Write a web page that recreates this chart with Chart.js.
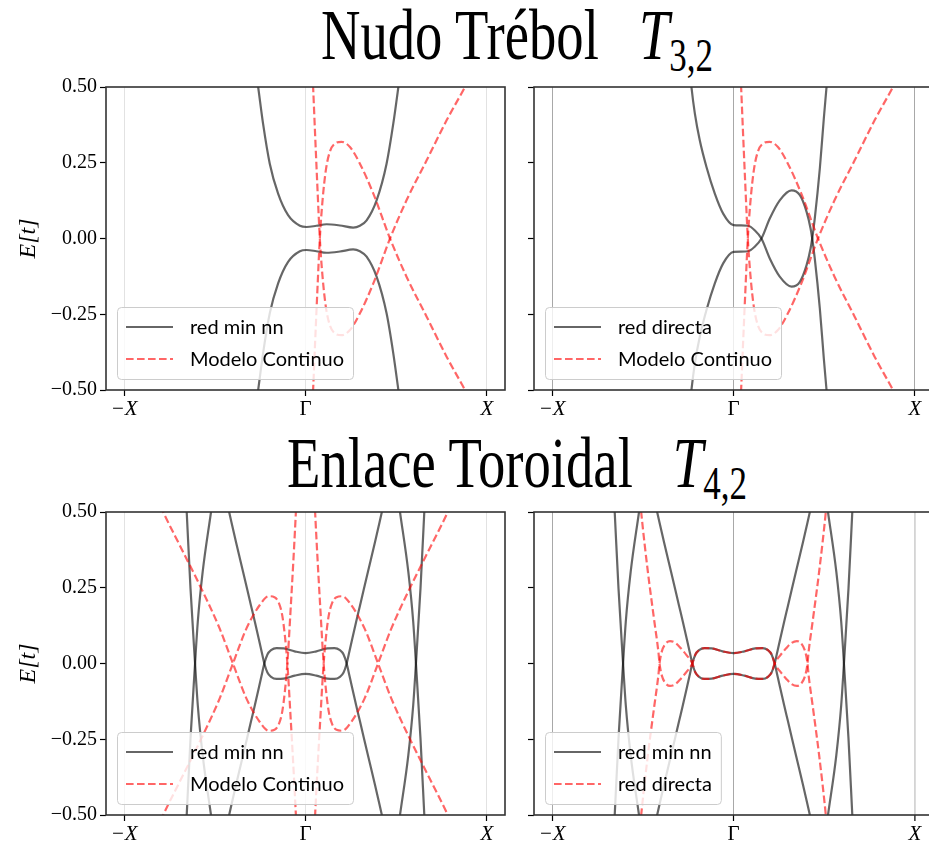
<!DOCTYPE html>
<html>
<head>
<meta charset="utf-8">
<script src="https://cdn.jsdelivr.net/npm/chart.js@4/dist/chart.umd.min.js"></script>
<style>
  html, body { margin: 0; padding: 0; background: #fff; overflow: hidden; }
  #fig { position: relative; width: 929px; height: 841px; overflow: hidden; }
  .panel { position: absolute; }
  .titulo {
    position: absolute; left: 517px;
    transform: translateX(-50%) scaleX(0.77);
    white-space: nowrap;
    font-family: "Liberation Serif", serif; font-size: 71px; line-height: 71px; color: #000;
  }
  .titulo i { margin-left: 52px; }
  .titulo sub { font-size: 0.64em; vertical-align: -0.27em; line-height: 0; }
</style>
</head>
<body>
<div id="fig">
  <div class="titulo" style="top:0px">Nudo Trébol<i>T</i><sub>3,2</sub></div>
  <div class="titulo" style="top:428px">Enlace Toroidal<i>T</i><sub>4,2</sub></div>
  <canvas class="panel" id="p1" width="515" height="353" style="left:0;top:67px"></canvas>
  <canvas class="panel" id="p2" width="423" height="353" style="left:520px;top:67px"></canvas>
  <canvas class="panel" id="p3" width="515" height="353" style="left:0;top:492px"></canvas>
  <canvas class="panel" id="p4" width="423" height="353" style="left:520px;top:492px"></canvas>
</div>
<script>
// ejes comunes
const X_TICKS = [-1, 0, 1];
const X_TICK_LABELS = ["\u2212X", "\u0393", "X"];
const Y_TICKS = [-0.5, -0.25, 0, 0.25, 0.5];
const Y_TICK_LABELS = ["\u22120.50", "\u22120.25", "0.00", "0.25", "0.50"];

// T(3,2) -- red min nn
const K_MINNN_T32 = [-0.275, -0.261, -0.234, -0.197, -0.151, -0.096, -0.031, 0.006, 0.06, 0.116, 0.19, 0.263, 0.300, 0.337, 0.392, 0.447, 0.484, 0.512, 0.525];
const E_MINNN_T32_SUP = [0.56, 0.50, 0.379, 0.247, 0.148, 0.077, 0.042, 0.038, 0.042, 0.047, 0.043, 0.036, 0.042, 0.060, 0.126, 0.247, 0.379, 0.50, 0.56];
const E_MINNN_T32_INF = [-0.56, -0.50, -0.379, -0.247, -0.148, -0.077, -0.042, -0.038, -0.042, -0.047, -0.043, -0.036, -0.042, -0.060, -0.126, -0.247, -0.379, -0.50, -0.56];

// T(3,2) -- red directa
const K_DIR_T32 = [-0.245, -0.232, -0.213, -0.186, -0.149, -0.103, -0.057, 0, 0.04, 0.081, 0.117, 0.154, 0.20, 0.255, 0.32, 0.366, 0.403, 0.425, 0.434, 0.448, 0.476, 0.498, 0.513, 0.52];
const E_DIR_T32_A = [0.58, 0.5, 0.412, 0.324, 0.236, 0.148, 0.082, 0.044, 0.043, 0.042, 0.027, 0, -0.066, -0.126, -0.159, -0.143, -0.088, -0.033, 0, 0.066, 0.231, 0.396, 0.5, 0.55];
const E_DIR_T32_B = [-0.58, -0.5, -0.412, -0.324, -0.236, -0.148, -0.082, -0.044, -0.043, -0.042, -0.027, 0, 0.066, 0.126, 0.159, 0.143, 0.088, 0.033, 0, -0.066, -0.231, -0.396, -0.5, -0.55];

// T(3,2) -- modelo continuo
const K_CONT_T32 = [0.036, 0.042, 0.052, 0.064, 0.079, 0.094, 0.112, 0.134, 0.162, 0.199, 0.245, 0.300, 0.374, 0.466, 0.557, 0.668, 0.778, 0.879, 0.90];
const E_CONT_T32_SUP = [-0.58, -0.5, -0.357, -0.192, 0, 0.126, 0.225, 0.286, 0.313, 0.319, 0.302, 0.247, 0.148, 0, -0.126, -0.258, -0.390, -0.5, -0.525];
const E_CONT_T32_INF = [0.58, 0.5, 0.357, 0.192, 0, -0.126, -0.225, -0.286, -0.313, -0.319, -0.302, -0.247, -0.148, 0, 0.126, 0.258, 0.390, 0.5, 0.525];

// T(4,2) -- red min nn: bandas centrales
const K_MINNN_T42 = [-0.44, -0.421, -0.383, -0.344, -0.30, -0.279, -0.243, -0.227, -0.21, -0.19, -0.16, -0.12, -0.06, 0, 0.06, 0.12, 0.16, 0.19, 0.21, 0.227, 0.243, 0.279, 0.30, 0.344, 0.383, 0.421, 0.44];
const E_MINNN_T42_A = [0.55, 0.5, 0.40, 0.302, 0.19, 0.137, 0.042, 0, -0.03, -0.044, -0.051, -0.05, -0.04, -0.034, -0.04, -0.05, -0.051, -0.044, -0.03, 0, 0.042, 0.137, 0.19, 0.302, 0.40, 0.5, 0.55];
const E_MINNN_T42_B = [-0.55, -0.5, -0.40, -0.302, -0.19, -0.137, -0.042, 0, 0.03, 0.044, 0.051, 0.05, 0.04, 0.034, 0.04, 0.05, 0.051, 0.044, 0.03, 0, -0.042, -0.137, -0.19, -0.302, -0.40, -0.5, -0.55];
// bandas exteriores (cruces en los bordes)
const K_MINNN_T42_IZQ = [-0.66, -0.655, -0.634, -0.609, -0.594, -0.567, -0.521, -0.515];
const E_MINNN_T42_IZQ_A = [-0.56, -0.5, -0.247, 0, 0.137, 0.302, 0.5, 0.526];
const E_MINNN_T42_IZQ_B = [0.56, 0.5, 0.247, 0, -0.137, -0.302, -0.5, -0.526];
const K_MINNN_T42_DER = [0.515, 0.521, 0.567, 0.594, 0.609, 0.634, 0.655, 0.66];
const E_MINNN_T42_DER_A = [0.526, 0.5, 0.302, 0.137, 0, -0.247, -0.5, -0.56];
const E_MINNN_T42_DER_B = [-0.526, -0.5, -0.302, -0.137, 0, 0.247, 0.5, 0.56];

// T(4,2) -- modelo continuo
const K_CONT_T42_IZQ = [-0.80, -0.785, -0.684, -0.574, -0.473, -0.40, -0.326, -0.252, -0.203, -0.171, -0.147, -0.128, -0.113, -0.10, -0.08, -0.065, -0.053, -0.047];
const E_CONT_T42_IZQ_SUP = [-0.52, -0.5, -0.379, -0.247, -0.115, 0, 0.115, 0.193, 0.222, 0.219, 0.20, 0.158, 0.088, 0, -0.20, -0.36, -0.5, -0.58];
const E_CONT_T42_IZQ_INF = [0.52, 0.5, 0.379, 0.247, 0.115, 0, -0.115, -0.193, -0.222, -0.219, -0.20, -0.158, -0.088, 0, 0.20, 0.36, 0.5, 0.58];
const K_CONT_T42_DER = [0.047, 0.053, 0.065, 0.08, 0.10, 0.113, 0.128, 0.147, 0.171, 0.203, 0.252, 0.326, 0.40, 0.473, 0.574, 0.684, 0.785, 0.80];
const E_CONT_T42_DER_SUP = [-0.58, -0.5, -0.36, -0.20, 0, 0.088, 0.158, 0.20, 0.219, 0.222, 0.193, 0.115, 0, -0.115, -0.247, -0.379, -0.5, -0.52];
const E_CONT_T42_DER_INF = [0.58, 0.5, 0.36, 0.20, 0, -0.088, -0.158, -0.20, -0.219, -0.222, -0.193, -0.115, 0, 0.115, 0.247, 0.379, 0.5, 0.52];

// T(4,2) -- red directa
const K_DIR_T42 = [-0.515, -0.509, -0.472, -0.436, -0.414, -0.408, -0.395, -0.375, -0.35, -0.32, -0.29, -0.258, -0.227, -0.21, -0.19, -0.16, -0.12, -0.06, 0, 0.06, 0.12, 0.16, 0.19, 0.21, 0.227, 0.258, 0.29, 0.32, 0.35, 0.375, 0.395, 0.408, 0.414, 0.436, 0.472, 0.509, 0.515];
const E_DIR_T42_A = [0.54, 0.5, 0.302, 0.137, 0.038, 0, -0.04, -0.065, -0.074, -0.068, -0.05, -0.027, 0, 0.03, 0.044, 0.051, 0.05, 0.04, 0.034, 0.04, 0.05, 0.051, 0.044, 0.03, 0, -0.027, -0.05, -0.068, -0.074, -0.065, -0.04, 0, 0.038, 0.137, 0.302, 0.5, 0.54];
const E_DIR_T42_B = [-0.54, -0.5, -0.302, -0.137, -0.038, 0, 0.04, 0.065, 0.074, 0.068, 0.05, 0.027, 0, -0.03, -0.044, -0.051, -0.05, -0.04, -0.034, -0.04, -0.05, -0.051, -0.044, -0.03, 0, 0.027, 0.05, 0.068, 0.074, 0.065, 0.04, 0, -0.038, -0.137, -0.302, -0.5, -0.54];

const NEGRO = "rgba(0, 0, 0, 0.6)";
const ROJO = "rgba(255, 0, 0, 0.6)";
const DASH = [7.6, 3.4];

function curva(ks, es, color, discontinua) {
    return {
        data: ks.map((k, i) => ({ x: k, y: es[i] })),
        borderColor: color,
        borderWidth: 2.2,
        borderDash: discontinua ? DASH : [],
        pointRadius: 0,
        fill: false,
        cubicInterpolationMode: "monotone",
        order: discontinua ? 0 : 1
    };
}

// leyenda dentro del area, abajo a la izquierda
const leyendaPlugin = {
    id: "leyenda",
    afterDatasetsDraw(chart, args, opts) {
        const { ctx, chartArea } = chart;
        const items = opts.items || [];
        ctx.save();
        ctx.font = "20px Lato";
        const textW = Math.max(...items.map(it => ctx.measureText(it.label).width));
        const h = 72;
        const x0 = chartArea.left + 11;
        const y0 = chartArea.bottom - 11 - h;
        const w = 73 + textW + 9;
        ctx.beginPath();
        ctx.roundRect(x0 + 0.5, y0 + 0.5, w, h, 4);
        ctx.fillStyle = "rgba(255,255,255,0.8)";
        ctx.fill();
        ctx.strokeStyle = "#cccccc";
        ctx.lineWidth = 1;
        ctx.stroke();
        items.forEach((it, i) => {
            const y = y0 + 20 + i * 32;
            ctx.beginPath();
            ctx.setLineDash(it.dash);
            ctx.strokeStyle = it.color;
            ctx.lineWidth = 2.2;
            ctx.moveTo(x0 + 9, y);
            ctx.lineTo(x0 + 56, y);
            ctx.stroke();
            ctx.setLineDash([]);
            ctx.fillStyle = "#000";
            ctx.textBaseline = "middle";
            ctx.fillText(it.label, x0 + 73, y + 1);
        });
        ctx.restore();
    }
};

// marco completo del eje
const marcoPlugin = {
    id: "marco",
    afterDraw(chart) {
        const { ctx, chartArea: a } = chart;
        ctx.save();
        ctx.strokeStyle = "#333";
        ctx.lineWidth = 1.6;
        ctx.strokeRect(a.left, a.top, a.right - a.left, a.bottom - a.top);
        ctx.restore();
    }
};

function panel(id, curvas, leyenda, conEtiquetas, coloresV, anchosV) {
    new Chart(document.getElementById(id), {
        type: "line",
        data: { datasets: curvas },
        options: {
            responsive: false,
            animation: false,
            layout: { padding: { top: 20, right: 10, left: 0, bottom: 0 } },
            plugins: {
                legend: { display: false },
                tooltip: { enabled: false },
                leyenda: { items: leyenda }
            },
            scales: {
                x: {
                    type: "linear",
                    min: -1.1,
                    max: 1.1,
                    afterBuildTicks: s => { s.ticks = X_TICKS.map(v => ({ value: v })); },
                    afterFit: s => { s.height = 30; },
                    ticks: {
                        callback: (v, i) => X_TICK_LABELS[i],
                        font: c => ({ family: "Liberation Serif", size: 21, style: c.index === 1 ? "normal" : "italic" }),
                        color: "#000",
                        padding: 1,
                        maxRotation: 0,
                        autoSkip: false
                    },
                    grid: {
                        color: c => coloresV[c.index],
                        lineWidth: c => anchosV[c.index],
                        drawTicks: true,
                        tickLength: 6,
                        tickColor: "#000",
                        tickWidth: 1.2
                    },
                    border: { display: false }
                },
                y: {
                    type: "linear",
                    min: -0.5,
                    max: 0.5,
                    afterBuildTicks: s => { s.ticks = Y_TICKS.map(v => ({ value: v })); },
                    afterFit: s => { s.width = conEtiquetas ? 106 : 14; },
                    ticks: {
                        display: conEtiquetas,
                        callback: (v, i) => Y_TICK_LABELS[i],
                        font: { family: "Liberation Serif", size: 20 },
                        color: "#000",
                        padding: 3
                    },
                    grid: {
                        drawOnChartArea: false,
                        drawTicks: true,
                        tickLength: 6,
                        tickColor: "#000",
                        tickWidth: 1.2
                    },
                    border: { display: false },
                    title: {
                        display: conEtiquetas,
                        text: "E[t]",
                        font: { family: "Liberation Serif", size: 24, style: "italic" },
                        color: "#000",
                        padding: { top: 14, bottom: 0 }
                    }
                }
            }
        },
        plugins: [leyendaPlugin, marcoPlugin]
    });
}

const GRIS_CLARO = ["#e2e2e2", "#e2e2e2", "#e2e2e2"];
const GRIS_MEDIO = ["#a8a8a8", "#a8a8a8", "#a8a8a8"];
const GRIS_MIXTO = ["#a8a8a8", "#a8a8a8", "#d4d4d4"];

const legMinnn = { label: "red min nn", color: NEGRO, dash: [] };
const legDirNegra = { label: "red directa", color: NEGRO, dash: [] };
const legCont = { label: "Modelo Continuo", color: ROJO, dash: DASH };
const legDirRoja = { label: "red directa", color: ROJO, dash: DASH };

panel("p1", [
    curva(K_MINNN_T32, E_MINNN_T32_SUP, NEGRO, false),
    curva(K_MINNN_T32, E_MINNN_T32_INF, NEGRO, false),
    curva(K_CONT_T32, E_CONT_T32_SUP, ROJO, true),
    curva(K_CONT_T32, E_CONT_T32_INF, ROJO, true)
], [legMinnn, legCont], true, GRIS_CLARO, [1, 1, 1]);

panel("p2", [
    curva(K_DIR_T32, E_DIR_T32_A, NEGRO, false),
    curva(K_DIR_T32, E_DIR_T32_B, NEGRO, false),
    curva(K_CONT_T32, E_CONT_T32_SUP, ROJO, true),
    curva(K_CONT_T32, E_CONT_T32_INF, ROJO, true)
], [legDirNegra, legCont], false, GRIS_MEDIO, [1, 1, 1]);

panel("p3", [
    curva(K_MINNN_T42, E_MINNN_T42_A, NEGRO, false),
    curva(K_MINNN_T42, E_MINNN_T42_B, NEGRO, false),
    curva(K_MINNN_T42_IZQ, E_MINNN_T42_IZQ_A, NEGRO, false),
    curva(K_MINNN_T42_IZQ, E_MINNN_T42_IZQ_B, NEGRO, false),
    curva(K_MINNN_T42_DER, E_MINNN_T42_DER_A, NEGRO, false),
    curva(K_MINNN_T42_DER, E_MINNN_T42_DER_B, NEGRO, false),
    curva(K_CONT_T42_IZQ, E_CONT_T42_IZQ_SUP, ROJO, true),
    curva(K_CONT_T42_IZQ, E_CONT_T42_IZQ_INF, ROJO, true),
    curva(K_CONT_T42_DER, E_CONT_T42_DER_SUP, ROJO, true),
    curva(K_CONT_T42_DER, E_CONT_T42_DER_INF, ROJO, true)
], [legMinnn, legCont], true, GRIS_CLARO, [1, 1, 1]);

panel("p4", [
    curva(K_MINNN_T42, E_MINNN_T42_A, NEGRO, false),
    curva(K_MINNN_T42, E_MINNN_T42_B, NEGRO, false),
    curva(K_MINNN_T42_IZQ, E_MINNN_T42_IZQ_A, NEGRO, false),
    curva(K_MINNN_T42_IZQ, E_MINNN_T42_IZQ_B, NEGRO, false),
    curva(K_MINNN_T42_DER, E_MINNN_T42_DER_A, NEGRO, false),
    curva(K_MINNN_T42_DER, E_MINNN_T42_DER_B, NEGRO, false),
    curva(K_DIR_T42, E_DIR_T42_A, ROJO, true),
    curva(K_DIR_T42, E_DIR_T42_B, ROJO, true)
], [legMinnn, legDirRoja], false, GRIS_MIXTO, [1, 1, 1.8]);
</script>
</body>
</html>
